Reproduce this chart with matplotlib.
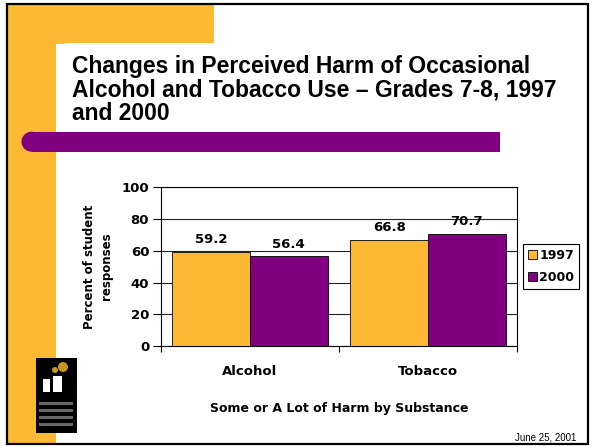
import numpy as np
import matplotlib
matplotlib.use("Agg")
import matplotlib.pyplot as plt
from matplotlib.patches import Rectangle, Circle

# data
categories = ['Alcohol', 'Tobacco']
years = ['1997', '2000']
values_1997 = [59.2, 66.8]
values_2000 = [56.4, 70.7]
y_ticks = [0, 20, 40, 60, 80, 100]

ORANGE = '#FDB933'
PURPLE = '#800080'
W, H = 592, 446

fig = plt.figure(figsize=(W / 100, H / 100), dpi=100)

# slide decoration in pixel coords
bg = fig.add_axes([0, 0, 1, 1])
bg.set_xlim(0, W)
bg.set_ylim(H, 0)
bg.axis('off')
bg.add_patch(Rectangle((7, 4), 207, 40, color=ORANGE, lw=0))
bg.add_patch(Rectangle((7, 4), 49, 440, color=ORANGE, lw=0))
# rounded white corner
bg.add_patch(Rectangle((68, 43), 150, 20, color='white', lw=0))
bg.add_patch(Rectangle((56, 55), 160, 20, color='white', lw=0))
bg.add_patch(Circle((68, 55), 12, color='white', lw=0))
# purple bar under the title
bg.add_patch(Circle((31.5, 141.7), 10, color=PURPLE, lw=0))
bg.add_patch(Rectangle((31.5, 131.7), 468.5, 20, color=PURPLE, lw=0))
bg.add_patch(Rectangle((7, 4), 581, 440, fill=False, ec='black', lw=1.6))

# logo (rough)
bg.add_patch(Rectangle((36, 358), 41, 75, color='black', lw=0))
bg.add_patch(Circle((63, 367), 5, color='#C8961E', lw=0))
bg.add_patch(Circle((55, 370), 3, color='#C8961E', lw=0))
bg.add_patch(Rectangle((43, 379), 7, 13, color='white', lw=0))
bg.add_patch(Rectangle((53, 376), 9, 16, color='white', lw=0))
for k in range(4):
    bg.add_patch(Rectangle((39, 402 + 7 * k), 34, 2.5, color='#666666', lw=0))

bg.text(72, 55, 'Changes in Perceived Harm of Occasional\nAlcohol and Tobacco Use \u2013 Grades 7-8, 1997\nand 2000',
        fontsize=16.5, fontweight='bold', family='Liberation Sans', va='top', ha='left',
        linespacing=1.04)
bg.text(576, 442, 'June 25, 2001', fontsize=7, family='Liberation Sans', ha='right', va='bottom')

# chart
ax = fig.add_axes([161 / W, 1 - 346 / H, 356 / W, 158.7 / H])
x = np.arange(len(categories))
bw = 0.436
b1 = ax.bar(x - bw / 2, values_1997, bw, color=ORANGE, edgecolor='black', lw=0.6, label=years[0], zorder=3)
b2 = ax.bar(x + bw / 2, values_2000, bw, color=PURPLE, edgecolor='black', lw=0.6, label=years[1], zorder=3)
for bars in (b1, b2):
    for r in bars:
        ax.annotate(f'{r.get_height():.1f}', (r.get_x() + r.get_width() / 2, r.get_height()),
                    xytext=(0, 4), textcoords='offset points', ha='center', va='bottom',
                    fontsize=9.5, fontweight='bold')

ax.set_xlim(-0.5, 1.5)
ax.set_ylim(0, 100)
ax.set_yticks(y_ticks)
ax.yaxis.grid(True, color='#222222', lw=0.8, zorder=0)
ax.set_xticks([-0.5, 0.5, 1.5])
ax.set_xticklabels([])
ax.set_xticks(x, minor=True)
ax.set_xticklabels(categories, minor=True)
ax.tick_params(axis='x', which='major', length=4, width=0.8, direction='out')
ax.tick_params(axis='x', which='minor', length=0, pad=14, labelsize=9.5)
ax.tick_params(axis='y', length=6, width=0.8, pad=2.5, labelsize=9.5)
for lab in ax.get_xticklabels(minor=True) + ax.get_yticklabels():
    lab.set_fontweight('bold')
for s in ax.spines.values():
    s.set_linewidth(0.8)
ax.set_ylabel('Percent of student\nresponses', fontsize=8.5, fontweight='bold', labelpad=6, linespacing=1.4)
ax.set_xlabel('Some or A Lot of Harm by Substance', fontsize=9, fontweight='bold', labelpad=17)

leg = ax.legend(loc='upper left', bbox_to_anchor=(523 / W, 1 - 244 / H), bbox_transform=fig.transFigure,
                borderaxespad=0, fancybox=False, edgecolor='black', framealpha=1,
                handlelength=0.7, handleheight=0.7, handletextpad=0.2, labelspacing=0.7,
                borderpad=0.4, prop={'size': 9, 'weight': 'bold'})
leg.get_frame().set_linewidth(0.8)

fig.savefig('out.png', dpi=100)
